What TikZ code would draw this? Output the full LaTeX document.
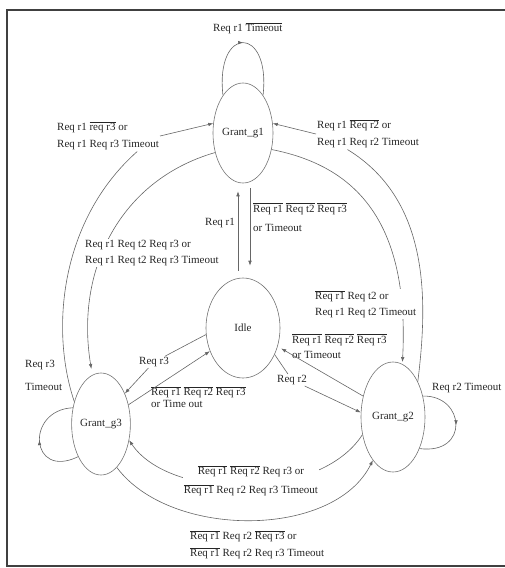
\documentclass[tikz,border=0pt]{standalone}
\usepackage{fontspec}
\setmainfont{Liberation Serif}
\usetikzlibrary{arrows.meta,shapes.geometric,decorations.markings}
\newcommand{\ovl}[1]{$\overline{\mbox{#1}}$}

\begin{document}
\begin{tikzpicture}[x=1pt, y=-1pt, >={Latex[length=5pt,width=3.6pt]},
	every node/.style={font={\fontsize{11}{14}\selectfont}, text=black!85},
	state/.style={ellipse, draw=black!55, line width=0.6pt, inner sep=0pt},
	conn/.style={draw=black!60, line width=0.6pt},
	lbl/.style={inner sep=1pt, align=left, anchor=west},
	cover/.style={lbl, fill=white},
	midarrow/.style={postaction={decorate}, decoration={markings, mark=at position 0.5 with {\arrow{>}}}}]
	\useasboundingbox (0,0) rectangle (505,568);
	\draw[black!75, line width=1.5pt] (507,10) -- (7,10) -- (7,566) -- (507,566);

	\node[state, minimum width=60pt, minimum height=100pt] (g1) at (243,133) {Grant\_g1};
	\node[state, minimum width=74pt, minimum height=100pt] (idle) at (243,328) {Idle};
	\node[state, minimum width=58pt, minimum height=102pt] (g3) at (101,424) {Grant\_g3};
	\node[state, minimum width=64pt, minimum height=110pt] (g2) at (393,417) {Grant\_g2};

	\node[lbl] (lblLoopA) at (212,28) {Req r1 \ovl{Timeout}};
	\node[lbl] (lblLoopB) at (431,388) {Req r2 Timeout};
	\node[lbl] (lblLoopC) at (24,375) {Req r3\\[9pt]Timeout};
	\node[lbl] (lblA) at (56,136) {Req r1 \ovl{req r3} or\\[3pt]Req r1 Req r3 Timeout};
	\node[lbl] (lblC) at (316,134) {Req r1 \ovl{Req r2} or\\[3pt]Req r1 Req r2 Timeout};
	\node[lbl, anchor=east] (lblUp) at (236,223) {Req r1};
	\node[lbl] (lblDown) at (252,217) {\ovl{Req r1} \ovl{Req t2} \ovl{Req r3}\\[5pt]or Timeout};
	\node[lbl, anchor=center] (lblR3) at (154,362) {Req r3};
	\node[lbl] (lblH) at (150,397) {\ovl{Req r1} \ovl{Req r2} \ovl{Req r3}\\[-2pt]or Time out};
	\node[lbl] (lblI) at (291,346) {\ovl{Req r1} \ovl{Req r2} \ovl{Req r3}\\[1pt]or Timeout};
	\node[lbl, anchor=center] (lblR2) at (292,380) {Req r2};
	\node[lbl] (lblF) at (189,545) {\ovl{Req r1} Req r2 \ovl{Req r3} or\\[3pt]\ovl{Req r1} Req r2 Req r3 Timeout};

	\draw[conn, midarrow] (g1.118) .. controls (215,25) and (271,25) .. (g1.62);
	\draw[conn, midarrow] (g2.35) .. controls (465,395) and (470,455) .. (g2.-50);
	\draw[conn, midarrow] (g3.235) .. controls (30,480) and (25,410) .. (g3.150);

	\draw[conn] (g3.140) .. controls (50,330) and (60,220) .. (lblA.-28);
	\draw[conn, ->] (lblA.east) -- (g1.162);
	\draw[conn] (g2.55) .. controls (428,300) and (430,200) .. (lblC.-143);
	\draw[conn, ->] (lblC.west) -- (g1.18);
	\draw[conn, ->, shorten >=6pt] (g1.215) .. controls (120,180) and (75,270) .. (g3.100);
	\draw[conn, ->, shorten >=2pt] (g1.330) .. controls (350,165) and (410,215) .. (g2.80);

	\draw[conn, ->, shorten <=7pt, shorten >=8pt] ([xshift=-5pt]idle.north) -- ([xshift=-5pt]g1.south);
	\draw[conn, ->, shorten <=5pt, shorten >=12pt] ([xshift=7pt]g1.south) -- ([xshift=7pt]idle.north);

	\draw[conn] (idle.190) -- (lblR3);
	\draw[conn, ->] (lblR3) -- (g3.52);
	\draw[conn, ->] (g3.35) -- (idle.215);
	\draw[conn, ->, shorten >=4pt] (g2.145) -- (idle.-28);
	\draw[conn] (idle.-40) -- (lblR2);
	\draw[conn, ->] (lblR2) -- (g2.172);

	\draw[conn, ->] (g2.210) .. controls (320,501) and (170,501) .. (g3.-30);
	\draw[conn, ->] (g3.290) .. controls (170,539) and (334,539) .. (g2.245);

	\node[cover] (lblB) at (84,253) {Req r1 Req t2 Req r3 or\\[2pt]Req r1 Req t2 Req r3 Timeout};
	\node[cover] (lblD) at (314,304) {\ovl{Req r1} Req t2 or\\[2pt]Req r1 Req t2 Timeout};
	\node[cover, align=center, anchor=center] (lblE) at (251,481) {\ovl{Req r1} \ovl{Req r2} Req r3 or\\[5pt]\ovl{Req r1} Req r2 Req r3 Timeout};
\end{tikzpicture}
\end{document}
